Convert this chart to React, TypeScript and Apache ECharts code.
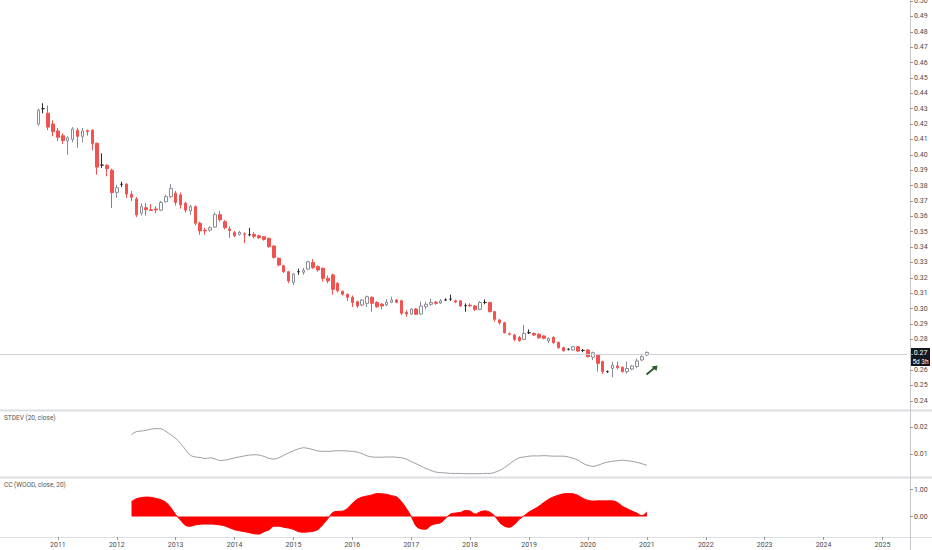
import React, { useEffect, useRef } from 'react';
import * as echarts from 'echarts';

// ---- categories: one per month, Jan 2010 .. Jun 2025
const FIRST_YEAR = 2010;
const MONTHS: string[] = [];
for (let i = 0; i < 186; i++) {
  const y = FIRST_YEAR + Math.floor(i / 12);
  const m = (i % 12) + 1;
  MONTHS.push(`${y}-${m < 10 ? '0' + m : m}`);
}

// ---- monthly candles, Sep 2010 .. Jan 2021
const CANDLE_START = '2010-09';
const OPEN = [
  0.420, 0.430, 0.427, 0.420, 0.4155, 0.4124, 0.409, 0.410, 0.416, 0.412, 0.4158, 0.416,
  0.4075, 0.3933, 0.393, 0.390, 0.3756, 0.3808, 0.381, 0.3743, 0.3713, 0.362, 0.3656, 0.3643,
  0.3648, 0.364, 0.3695, 0.3728, 0.375, 0.3739, 0.3685, 0.3635, 0.3663, 0.3555, 0.351, 0.351,
  0.353, 0.3611, 0.3565, 0.3518, 0.3494, 0.3483, 0.3486, 0.348, 0.3483, 0.3474, 0.3467, 0.3457,
  0.3407, 0.3327, 0.3279, 0.324, 0.3171, 0.324, 0.3236, 0.3257, 0.330, 0.3273, 0.3262, 0.3197,
  0.3219, 0.3164, 0.3112, 0.3093, 0.3073, 0.3045, 0.3023, 0.3034, 0.3073, 0.304, 0.3029, 0.3025,
  0.3041, 0.3056, 0.3051, 0.2976, 0.2965, 0.2997, 0.2965, 0.3012, 0.3028, 0.3042, 0.3036, 0.3056,
  0.3062, 0.3051, 0.305, 0.3019, 0.3022, 0.3017, 0.2995, 0.304, 0.304, 0.298, 0.2926, 0.2908,
  0.2836, 0.2828, 0.2813, 0.280, 0.2843, 0.2839, 0.2833, 0.2822, 0.2791, 0.2813, 0.278, 0.2746,
  0.2735, 0.2731, 0.2752, 0.2728, 0.2731, 0.2684, 0.2698, 0.2655, 0.259, 0.2611, 0.2627, 0.2618,
  0.259, 0.2607, 0.2623, 0.2666, 0.2698,
];
const CLOSE = [
  0.429, 0.430, 0.418, 0.415, 0.4114, 0.4092, 0.411, 0.4168, 0.412, 0.4155, 0.4152, 0.4073,
  0.392, 0.3933, 0.391, 0.3754, 0.3786, 0.3808, 0.3745, 0.3724, 0.361, 0.3663, 0.3643, 0.3638,
  0.3642, 0.369, 0.3728, 0.3782, 0.369, 0.3675, 0.364, 0.3663, 0.3555, 0.3505, 0.3505, 0.3526,
  0.3611, 0.3578, 0.3526, 0.3507, 0.3474, 0.3496, 0.3484, 0.348, 0.347, 0.3461, 0.345, 0.3403,
  0.3333, 0.3283, 0.324, 0.318, 0.3225, 0.324, 0.325, 0.3305, 0.3266, 0.3251, 0.3197, 0.318,
  0.3125, 0.3116, 0.3093, 0.3073, 0.304, 0.3017, 0.3056, 0.3077, 0.3034, 0.3012, 0.3017, 0.3043,
  0.3056, 0.3041, 0.297, 0.2965, 0.2997, 0.2963, 0.3017, 0.3028, 0.304, 0.3034, 0.305, 0.3056,
  0.3062, 0.3043, 0.3017, 0.3019, 0.3018, 0.2995, 0.304, 0.304, 0.298, 0.293, 0.2908, 0.2843,
  0.2833, 0.280, 0.2791, 0.2839, 0.2843, 0.2828, 0.281, 0.2807, 0.2807, 0.2778, 0.2746, 0.2726,
  0.2735, 0.2752, 0.2724, 0.2728, 0.2687, 0.2713, 0.2644, 0.259, 0.259, 0.2633, 0.2616, 0.259,
  0.2611, 0.2627, 0.266, 0.2687, 0.2715,
];
const LOW = [
  0.419, 0.427, 0.416, 0.412, 0.409, 0.407, 0.400, 0.408, 0.4046, 0.408, 0.4125, 0.403,
  0.387, 0.3915, 0.386, 0.3654, 0.372, 0.379, 0.372, 0.370, 0.3595, 0.3605, 0.3605, 0.3635,
  0.362, 0.3635, 0.369, 0.372, 0.367, 0.365, 0.3625, 0.361, 0.354, 0.348, 0.348, 0.350,
  0.3525, 0.3565, 0.3515, 0.346, 0.3465, 0.3475, 0.3425, 0.347, 0.3457, 0.3452, 0.3442, 0.3395,
  0.3325, 0.3275, 0.3232, 0.3165, 0.3153, 0.322, 0.322, 0.325, 0.3258, 0.324, 0.3175, 0.3165,
  0.309, 0.3105, 0.3085, 0.305, 0.301, 0.3005, 0.3015, 0.301, 0.298, 0.3005, 0.2995, 0.3015,
  0.3035, 0.3035, 0.2958, 0.2948, 0.2958, 0.2958, 0.296, 0.2995, 0.3018, 0.3025, 0.303, 0.305,
  0.305, 0.3035, 0.3012, 0.298, 0.3012, 0.2985, 0.299, 0.3028, 0.2975, 0.2915, 0.2895, 0.2838,
  0.2826, 0.2788, 0.2785, 0.2795, 0.2835, 0.2822, 0.2805, 0.280, 0.2775, 0.2772, 0.274, 0.272,
  0.2728, 0.2726, 0.2718, 0.2716, 0.2682, 0.2665, 0.259, 0.2575, 0.2582, 0.2553, 0.2605, 0.2585,
  0.2577, 0.260, 0.2615, 0.2658, 0.269,
];
const HIGH = [
  0.430, 0.4335, 0.432, 0.4225, 0.4175, 0.414, 0.412, 0.418, 0.4175, 0.4175, 0.4165, 0.4165,
  0.408, 0.401, 0.394, 0.391, 0.3805, 0.3825, 0.3815, 0.3765, 0.3725, 0.3685, 0.3685, 0.368,
  0.3665, 0.370, 0.374, 0.381, 0.3765, 0.3755, 0.3695, 0.3675, 0.367, 0.3565, 0.3525, 0.3535,
  0.3625, 0.3635, 0.3575, 0.3535, 0.3505, 0.3505, 0.3495, 0.3525, 0.3497, 0.348, 0.3472, 0.3462,
  0.3412, 0.3332, 0.3285, 0.3245, 0.3232, 0.326, 0.3265, 0.3312, 0.3322, 0.3282, 0.3268, 0.3215,
  0.3228, 0.3172, 0.3118, 0.3098, 0.3085, 0.3052, 0.3062, 0.3085, 0.308, 0.3048, 0.3035, 0.3062,
  0.3078, 0.3062, 0.3058, 0.299, 0.3003, 0.3003, 0.3045, 0.3045, 0.3065, 0.305, 0.3062, 0.3067,
  0.309, 0.3058, 0.3056, 0.3034, 0.3034, 0.3022, 0.3048, 0.306, 0.3045, 0.2985, 0.2932, 0.2915,
  0.2845, 0.2835, 0.2822, 0.2893, 0.2865, 0.2845, 0.284, 0.2828, 0.2812, 0.282, 0.2786, 0.2752,
  0.2742, 0.2757, 0.2757, 0.2738, 0.2738, 0.272, 0.2705, 0.2662, 0.2598, 0.2655, 0.2655, 0.2625,
  0.2655, 0.2633, 0.2675, 0.2697, 0.2722,
];

// ---- indicators, Apr 2012 .. Jan 2021
const IND_START = '2012-04';
const STDEV = [
  0.0172, 0.0183, 0.0185, 0.0188, 0.0192, 0.0194, 0.0193, 0.0184, 0.0171,
  0.0158, 0.0139, 0.0116, 0.0095, 0.0089, 0.0087, 0.0083, 0.0086, 0.0082, 0.0076, 0.0077, 0.0081,
  0.0086, 0.0089, 0.0093, 0.0096, 0.0097, 0.0096, 0.0091, 0.0084, 0.0081, 0.0086, 0.0095, 0.0104,
  0.0112, 0.0119, 0.0123, 0.0121, 0.0116, 0.0111, 0.0110, 0.0110, 0.0111, 0.0112, 0.0112, 0.0111,
  0.0110, 0.0107, 0.0101, 0.0093, 0.0089, 0.0088, 0.0088, 0.0089, 0.0089, 0.0088, 0.0086, 0.0081,
  0.0072, 0.0064, 0.0055, 0.0046, 0.0039, 0.0033, 0.0031, 0.0030, 0.0028, 0.0028, 0.0028, 0.0027,
  0.0027, 0.0027, 0.0027, 0.0028, 0.0028, 0.0032, 0.0039, 0.0050, 0.0063, 0.0076, 0.0086, 0.0089,
  0.0092, 0.0093, 0.0093, 0.0094, 0.0093, 0.0092, 0.0092, 0.0092, 0.0089, 0.0084, 0.0077, 0.0065,
  0.0058, 0.0054, 0.0058, 0.0065, 0.0070, 0.0073, 0.0075, 0.0077, 0.0075, 0.0073, 0.0069, 0.0064,
  0.0058,
];
const CC = [
  0.55, 0.66, 0.70, 0.72, 0.71, 0.67, 0.62, 0.53, 0.33,
  0.07, -0.14, -0.33, -0.36, -0.31, -0.29, -0.28, -0.28, -0.29, -0.31, -0.35, -0.42,
  -0.49, -0.53, -0.56, -0.60, -0.64, -0.65, -0.56, -0.50, -0.36, -0.36, -0.40, -0.43,
  -0.48, -0.56, -0.58, -0.57, -0.55, -0.48, -0.30, -0.08, 0.15, 0.19, 0.20, 0.30,
  0.49, 0.64, 0.72, 0.76, 0.80, 0.85, 0.84, 0.82, 0.77, 0.73, 0.55, 0.30,
  0.00, -0.36, -0.46, -0.47, -0.33, -0.27, -0.23, -0.07, 0.09, 0.13, 0.15, 0.22,
  0.20, 0.09, 0.17, 0.21, 0.16, 0.02, -0.22, -0.36, -0.40, -0.30, -0.10, 0.03,
  0.17, 0.27, 0.38, 0.52, 0.64, 0.73, 0.79, 0.84, 0.85, 0.84, 0.78, 0.67,
  0.60, 0.57, 0.58, 0.58, 0.58, 0.58, 0.52, 0.38, 0.29, 0.20, 0.12, 0.03,
  0.17,
];

const LAST_PRICE = 0.2711;
const LAST_PRICE_TEXT = '0.27';
const COUNTDOWN_TEXT = '5d 3h';
const PRICE_TICKS = [0.24, 0.25, 0.26, 0.27, 0.28, 0.29, 0.30, 0.31, 0.32, 0.33, 0.34, 0.35, 0.36,
  0.37, 0.38, 0.39, 0.40, 0.41, 0.42, 0.43, 0.44, 0.45, 0.46, 0.47, 0.48, 0.49, 0.50];
const STDEV_TICKS = [0.01, 0.02];
const CC_TICKS = [0, 1];

const FONT = 'Roboto, "Liberation Sans", sans-serif';
const LABEL_COLOR = '#4a4a4a';
const SEP_COLOR = '#dcdee4';

export default function App() {
  const ref = useRef<HTMLDivElement>(null);

  useEffect(() => {
    if (!ref.current) return;
    const chart = echarts.init(ref.current, undefined, { renderer: 'svg' });

    const cStart = MONTHS.indexOf(CANDLE_START);
    const iStart = MONTHS.indexOf(IND_START);
    const candleData = MONTHS.map((_, i) => {
      const k = i - cStart;
      if (k < 0 || k >= OPEN.length) return '-';
      return [OPEN[k], CLOSE[k], LOW[k], HIGH[k]];
    });
    const stdevData = MONTHS.map((_, i) => {
      const k = i - iStart;
      return k >= 0 && k < STDEV.length ? STDEV[k] : '-';
    });
    const ccData = MONTHS.map((_, i) => {
      const k = i - iStart;
      return k >= 0 && k < CC.length ? CC[k] : '-';
    });

    // year ticks at every January (the first, at the very left edge, is not shown)
    const isJan = (idx: number, v: string) => idx > 0 && v.endsWith('-01');

    const gridL = -1;
    const gridR = 25;

    const hiddenX = (g: number) => ({
      type: 'category' as const,
      gridIndex: g,
      data: MONTHS,
      boundaryGap: false,
      axisLine: { show: false, onZero: false },
      axisTick: { show: false },
      axisLabel: { show: false },
      splitLine: { show: false },
    });

    const rightY = (g: number, min: number, max: number, ticks: number[], labels: number[]) => ({
      type: 'value' as const,
      gridIndex: g,
      position: 'right' as const,
      offset: 3,
      min,
      max,
      scale: true,
      axisLine: { show: false, onZero: false },
      axisTick: { show: true, length: 3, customValues: ticks, lineStyle: { color: '#9a9a9a' } },
      axisLabel: {
        customValues: labels,
        formatter: (v: number) => v.toFixed(2),
        fontSize: 7,
        color: LABEL_COLOR,
        fontFamily: FONT,
        margin: 4,
      },
      splitLine: { show: false },
    });

    const gridBase = { left: gridL, right: gridR, outerBoundsMode: 'none', containLabel: false };

    const option: any = {
      animation: false,
      backgroundColor: '#ffffff',
      grid: [
        { ...gridBase, top: 0, height: 410 },
        { ...gridBase, top: 411, height: 66 },
        { ...gridBase, top: 478, height: 59 },
      ],
      xAxis: [
        hiddenX(0),
        hiddenX(1),
        {
          type: 'category',
          gridIndex: 2,
          position: 'bottom',
          data: MONTHS,
          boundaryGap: false,
          axisLine: { show: false, onZero: false },
          axisTick: { show: true, interval: isJan, length: 3, inside: false, lineStyle: { color: '#9a9a9a' } },
          axisLabel: {
            interval: isJan,
            formatter: (v: string) => v.slice(0, 4),
            fontSize: 7,
            color: LABEL_COLOR,
            fontFamily: FONT,
            margin: 4,
            hideOverlap: false,
          },
          splitLine: { show: false },
        },
      ],
      yAxis: [
        // the last-price tag covers the 0.27 label, as in the reference
        rightY(0, 0.23407, 0.50065, PRICE_TICKS, PRICE_TICKS.filter((v) => Math.abs(v - 0.27) > 0.001)),
        rightY(1, 0.00148, 0.02593, STDEV_TICKS, STDEV_TICKS),
        rightY(2, -0.759, 1.426, CC_TICKS, CC_TICKS),
      ],
      series: [
        {
          type: 'candlestick',
          xAxisIndex: 0,
          yAxisIndex: 0,
          data: candleData,
          barWidth: 3,
          itemStyle: {
            color: '#ffffff',
            color0: '#f05350',
            borderColor: '#8a8d96',
            borderColor0: '#f05350',
            borderColorDoji: '#2b2b2b',
            borderWidth: 1,
          },
          markLine: {
            silent: true,
            symbol: 'none',
            label: { show: false },
            lineStyle: { color: '#cfd1d6', width: 1, type: 'solid' },
            data: [{ yAxis: LAST_PRICE }],
          },
        },
        {
          type: 'line',
          xAxisIndex: 1,
          yAxisIndex: 1,
          data: stdevData,
          showSymbol: false,
          smooth: 0.3,
          lineStyle: { color: '#9c9c9c', width: 1 },
        },
        {
          type: 'line',
          xAxisIndex: 2,
          yAxisIndex: 2,
          data: ccData,
          showSymbol: false,
          smooth: 0.3,
          lineStyle: { color: '#ff0000', width: 1 },
          areaStyle: { color: '#ff0000', opacity: 1 },
        },
      ],
      graphic: [
        { type: 'line', shape: { x1: 0, y1: 410.5, x2: 932, y2: 410.5 }, style: { stroke: SEP_COLOR, lineWidth: 2 }, silent: true },
        { type: 'line', shape: { x1: 0, y1: 477.5, x2: 932, y2: 477.5 }, style: { stroke: SEP_COLOR, lineWidth: 2 }, silent: true },
        { type: 'line', shape: { x1: 0, y1: 537.5, x2: 932, y2: 537.5 }, style: { stroke: SEP_COLOR, lineWidth: 1 }, silent: true },
        { type: 'line', shape: { x1: 910.5, y1: 0, x2: 910.5, y2: 550 }, style: { stroke: '#c4c6cc', lineWidth: 1 }, silent: true },
        {
          type: 'text', left: 4, top: 414,
          style: { text: 'STDEV (20, close)', fontSize: 6.5, fill: '#555', fontFamily: FONT },
        },
        {
          type: 'text', left: 4, top: 481,
          style: { text: 'CC (WOOD, close, 20)', fontSize: 6.5, fill: '#555', fontFamily: FONT },
        },
        { type: 'rect', shape: { x: 911, y: 348, width: 19, height: 9 }, style: { fill: '#131722' } },
        {
          type: 'text', x: 920.5, y: 352.5,
          style: { text: LAST_PRICE_TEXT, fontSize: 7, fill: '#ffffff', fontFamily: FONT, align: 'center', verticalAlign: 'middle' },
        },
        { type: 'rect', shape: { x: 911, y: 357, width: 19, height: 9 }, style: { fill: '#131722' } },
        {
          type: 'text', x: 920.5, y: 361.5,
          style: { text: COUNTDOWN_TEXT, fontSize: 6.5, fill: '#ffffff', fontFamily: FONT, align: 'center', verticalAlign: 'middle' },
        },
        { type: 'line', shape: { x1: 646.5, y1: 374.5, x2: 655, y2: 367.5 }, style: { stroke: '#2e5d2e', lineWidth: 2 } },
        { type: 'polygon', shape: { points: [[657.5, 365.5], [651.5, 366.5], [656.5, 371]] }, style: { fill: '#2e5d2e' } },
      ],
    };

    chart.setOption(option);
    return () => chart.dispose();
  }, []);

  return (
    <div
      ref={ref}
      style={{ position: 'fixed', left: 0, top: 0, width: 932, height: 550 }}
    />
  );
}
